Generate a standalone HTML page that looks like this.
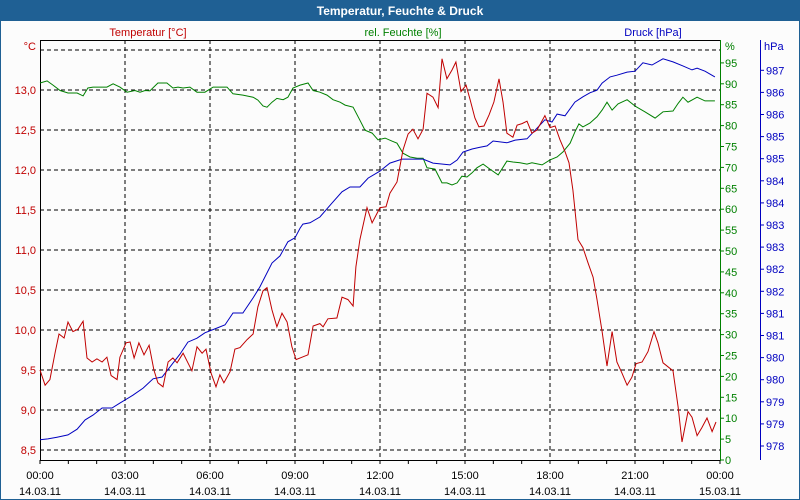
<!DOCTYPE html>
<html><head><meta charset="utf-8"><style>
body{margin:0;background:#fff}
svg{display:block;font-family:"Liberation Sans","DejaVu Sans",sans-serif}
</style></head><body>
<svg id="chart" width="800" height="500" viewBox="0 0 800 500">
<rect x="0" y="0" width="800" height="500" fill="#fcfcfc" stroke="#1f6094" stroke-width="2"/>
<rect x="0" y="0" width="800" height="21" fill="#1f6094"/>
<text x="400" y="15" text-anchor="middle" fill="#fff" font-weight="bold" font-size="12">Temperatur, Feuchte &amp; Druck</text>
<text x="148" y="36" text-anchor="middle" fill="#c00000" font-size="11">Temperatur [°C]</text>
<text x="403" y="36" text-anchor="middle" fill="#008000" font-size="11">rel. Feuchte [%]</text>
<text x="653" y="36" text-anchor="middle" fill="#0000c0" font-size="11">Druck [hPa]</text>
<g id="grid"></g>
<g id="axes"></g>
<g id="series"></g>
</svg>
<script>
const xTickLabels=["00:00","03:00","06:00","09:00","12:00","15:00","18:00","21:00","00:00"];
const xDateLabels=["14.03.11","14.03.11","14.03.11","14.03.11","14.03.11","14.03.11","14.03.11","14.03.11","15.03.11"];
const tempTicks=[8.5,9.0,9.5,10.0,10.5,11.0,11.5,12.0,12.5,13.0,13.5];
const humTicks=[0,5,10,15,20,25,30,35,40,45,50,55,60,65,70,75,80,85,90,95];
const presTicks=[978,978.5,979,979.5,980,980.5,981,981.5,982,982.5,983,983.5,984,984.5,985,985.5,986,986.5];
const tempTimes=[0,0.18,0.35,0.53,0.67,0.85,0.99,1.16,1.34,1.52,1.66,1.84,2.01,2.19,2.36,2.51,2.72,2.82,3.04,3.18,3.32,3.49,3.67,3.85,4.02,4.16,4.34,4.52,4.69,4.84,5.05,5.36,5.54,5.72,5.86,6.04,6.21,6.35,6.49,6.71,6.88,7.06,7.31,7.52,7.69,7.87,8.01,8.19,8.36,8.54,8.72,8.89,9.04,9.46,9.64,9.88,9.99,10.16,10.48,10.66,10.87,11.05,11.15,11.29,11.54,11.72,12.00,12.21,12.35,12.60,12.81,12.99,13.16,13.34,13.52,13.66,13.87,14.05,14.19,14.36,14.54,14.68,14.86,15.04,15.18,15.35,15.49,15.67,15.85,16.02,16.20,16.34,16.48,16.69,16.84,17.01,17.19,17.36,17.54,17.82,18.00,18.18,18.35,18.53,18.67,18.81,18.99,19.16,19.34,19.52,19.66,19.84,20.01,20.19,20.36,20.54,20.72,20.89,21.04,21.25,21.46,21.67,21.81,21.99,22.34,22.52,22.66,22.87,23.01,23.19,23.36,23.54,23.72,23.86];
const tempValues=[9.50,9.31,9.38,9.71,9.95,9.90,10.10,9.98,10.01,10.11,9.65,9.60,9.64,9.60,9.66,9.43,9.38,9.66,9.84,9.85,9.65,9.84,9.69,9.81,9.50,9.34,9.29,9.60,9.65,9.59,9.71,9.49,9.79,9.71,9.76,9.46,9.29,9.44,9.34,9.48,9.76,9.78,9.88,9.95,10.29,10.49,10.53,10.25,10.04,10.21,10.10,9.79,9.63,9.69,10.05,10.08,10.04,10.14,10.15,10.41,10.38,10.30,10.79,11.13,11.53,11.34,11.53,11.54,11.71,11.85,12.25,12.45,12.51,12.39,12.51,12.96,12.91,12.78,13.39,13.14,13.25,13.35,12.98,13.06,12.88,12.65,12.54,12.55,12.69,12.85,13.14,12.85,12.46,12.41,12.56,12.58,12.61,12.46,12.50,12.68,12.53,12.55,12.38,12.23,12.09,11.75,11.13,11.03,10.84,10.66,10.38,9.98,9.55,9.98,9.60,9.46,9.31,9.41,9.58,9.60,9.73,9.98,9.84,9.59,9.49,9.04,8.60,8.98,8.91,8.68,8.78,8.90,8.73,8.85];
const humTimes=[0,0.25,0.46,0.71,0.99,1.31,1.52,1.69,1.87,2.36,2.58,2.82,3.07,3.35,3.53,3.71,3.88,4.16,4.48,4.69,4.87,5.05,5.29,5.54,5.82,6.11,6.60,6.81,7.16,7.52,7.69,7.87,8.01,8.19,8.36,8.58,8.75,8.93,9.18,9.46,9.64,9.88,10.13,10.34,10.59,10.77,11.05,11.29,11.47,11.72,11.93,12.18,12.42,12.60,12.81,13.06,13.31,13.52,13.66,13.94,14.19,14.36,14.54,14.72,14.89,15.07,15.25,15.42,15.64,15.88,16.17,16.48,16.69,16.94,17.19,17.36,17.72,18.00,18.25,18.46,18.71,18.88,19.02,19.16,19.41,19.66,19.84,20.01,20.19,20.40,20.72,21.00,21.35,21.71,21.99,22.34,22.52,22.69,22.87,23.19,23.47,23.82];
const humValues=[90.2,90.7,89.7,88.4,87.8,87.8,87.1,89.0,89.2,89.2,90.0,89.2,88.0,88.4,88.0,88.4,88.3,90.2,90.2,89.0,89.2,89.0,89.2,88.0,88.0,89.2,89.2,87.6,87.3,86.8,86.1,84.7,84.4,85.6,86.5,86.2,86.8,89.0,89.7,90.2,88.4,88.0,87.3,86.2,85.6,84.9,84.4,81.3,78.9,78.2,76.6,77.0,76.3,75.8,73.4,72.5,72.2,72.2,69.9,69.6,66.3,66.3,65.8,66.3,67.9,67.7,68.7,69.9,70.8,69.6,68.2,71.5,71.3,71.1,70.8,71.1,70.6,71.8,72.5,73.7,75.8,78.5,80.4,79.7,80.6,82.1,83.7,85.6,83.7,85.2,86.2,84.7,83.3,81.8,83.3,83.5,85.3,86.8,85.6,86.8,85.9,85.9];
const presTimes=[0,0.28,0.60,0.99,1.31,1.59,1.87,2.19,2.54,2.82,3.28,3.64,3.99,4.31,4.59,4.94,5.22,5.54,5.82,6.25,6.53,6.81,7.16,7.52,7.76,8.19,8.47,8.75,9.00,9.18,9.28,9.53,9.88,10.31,10.66,10.94,11.29,11.58,12.00,12.35,12.78,13.52,13.87,14.47,14.72,14.93,15.25,15.53,15.78,15.99,16.48,16.77,17.19,17.54,17.82,18.07,18.25,18.53,18.88,19.16,19.41,19.66,19.84,20.12,20.36,20.72,21.00,21.28,21.60,21.99,22.34,22.69,23.01,23.19,23.47,23.82];
const presValues=[978.14,978.16,978.20,978.25,978.38,978.59,978.70,978.86,978.86,978.97,979.15,979.31,979.52,979.56,979.79,980.08,980.35,980.44,980.56,980.67,980.74,981.01,981.01,981.35,981.60,982.14,982.30,982.62,982.71,982.93,983.02,983.05,983.18,983.50,983.75,983.86,983.86,984.06,984.22,984.40,984.49,984.49,984.40,984.36,984.47,984.65,984.72,984.76,984.79,984.90,984.86,984.92,984.95,985.19,985.38,985.33,985.51,985.47,985.78,985.90,985.99,986.05,986.21,986.35,986.39,986.46,986.48,986.67,986.62,986.76,986.69,986.60,986.51,986.55,986.48,986.35];

const NS="http://www.w3.org/2000/svg";
const L=40,R=720,T=40,B=460;
const xS=h=>L+(R-L)*h/24;
const yT=v=>90+(13-v)*80;
const yH=v=>460-v*4.18;
const yP=v=>446-(v-978)*44.2;
function mk(tag,attrs,parent){const e=document.createElementNS(NS,tag);for(const k in attrs)e.setAttribute(k,attrs[k]);parent.appendChild(e);return e;}
const grid=document.getElementById('grid'),axes=document.getElementById('axes'),series=document.getElementById('series');
const fmt=v=>v.toFixed(1).replace('.',',');

tempTicks.forEach((v,i)=>{
  const y=yT(v);
  const g=mk('line',{x1:L,x2:R,y1:y,y2:y,stroke:'#000','stroke-dasharray':'4,3','stroke-width':1},grid);
  
  
  if(i===tempTicks.length-1) return;
  const t=mk('text',{x:36,y:y+4,'text-anchor':'end',fill:'#c00000','font-size':11},axes);
  t.textContent=fmt(v);
  
  
});
const cu=mk('text',{x:36,y:50,'text-anchor':'end',fill:'#c00000','font-size':11},axes);
cu.textContent='°C';



xTickLabels.forEach((lab,i)=>{
  const x=xS(i*3);
  if(i>0&&i<8){
    const g=mk('line',{x1:x,x2:x,y1:T,y2:B,stroke:'#000','stroke-dasharray':'4,3','stroke-width':1},grid);
    
    
  }
  const t=mk('text',{x:x,y:479,'text-anchor':'middle',fill:'#000','font-size':11},axes);
  t.textContent=lab;
  
  
  const d=mk('text',{x:x,y:495,'text-anchor':'middle',fill:'#000','font-size':11},axes);
  d.textContent=xDateLabels[i];
  
  
});
for(let h=0;h<=24;h++){
  const x=xS(h);
  const tk=mk('line',{x1:x,x2:x,y1:B,y2:B+4,stroke:'#000'},axes);
  
  
}
const fr=mk('path',{d:`M${L+0.5},${B} L${L+0.5},${T+0.5} L${R},${T+0.5} M${L},${B+0.5} L${R},${B+0.5}`,stroke:'#000',fill:'none'},axes);



const ga=mk('line',{x1:R+0.5,x2:R+0.5,y1:T,y2:B+1,stroke:'#008000'},axes);


humTicks.forEach(v=>{
  const y=yH(v);
  const tk=mk('line',{x1:R,x2:R+4,y1:y,y2:y,stroke:'#008000'},axes);
  
  
  const t=mk('text',{x:R+5,y:y+4,fill:'#008000','font-size':11},axes);
  t.textContent=String(v);
  
  
});
const hu=mk('text',{x:R+5,y:50,fill:'#008000','font-size':11},axes);
hu.textContent='%';



const pa=mk('line',{x1:760.5,x2:760.5,y1:40,y2:460,stroke:'#0000c0'},axes);


presTicks.forEach(v=>{
  const y=yP(v);
  const tk=mk('line',{x1:760,x2:764,y1:y,y2:y,stroke:'#0000c0'},axes);
  
  
  const t=mk('text',{x:766,y:y+4,fill:'#0000c0','font-size':11},axes);
  t.textContent=String(Math.floor(v+0.5));
  
  
});
const pu=mk('text',{x:764,y:50,fill:'#0000c0','font-size':11},axes);
pu.textContent='hPa';



function line(times,vals,ys,color,name){
  const pts=times.map((h,i)=>xS(h).toFixed(1)+','+ys(vals[i]).toFixed(1)).join(' ');
  const p=mk('polyline',{points:pts,fill:'none',stroke:color,'stroke-width':1},series);
  
  
}
line(humTimes,humValues,yH,'#008000','humidity-line');
line(presTimes,presValues,yP,'#0000c0','pressure-line');
line(tempTimes,tempValues,yT,'#c00000','temperature-line');
</script>
</body></html>
